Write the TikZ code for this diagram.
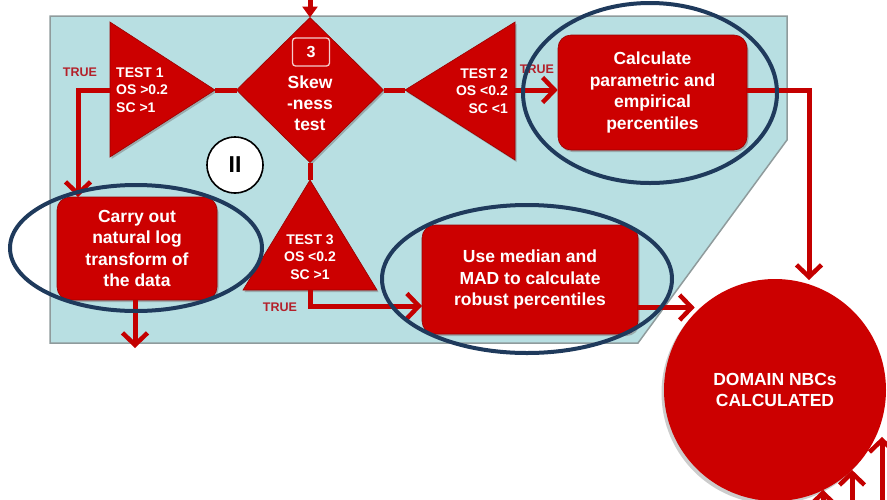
\documentclass[tikz,border=0pt]{standalone}
\usepackage{fontspec}
\setmainfont{Liberation Sans}
\usetikzlibrary{shapes.geometric,arrows.meta,shadows,calc}

\definecolor{panel}{HTML}{B8DFE2}
\definecolor{flowred}{HTML}{CC0000}
\definecolor{linkred}{HTML}{C40000}
\definecolor{ringblue}{HTML}{1F3A5C}
\definecolor{labelred}{HTML}{B3202A}
\definecolor{edgegray}{HTML}{8F9B9C}

\tikzset{
  every node/.style={font=\bfseries},
  redshape/.style={fill=flowred, draw=flowred!75!black, line width=0.6pt,
    drop shadow={opacity=0.55, shadow xshift=1.5pt, shadow yshift=-2pt}},
  procbox/.style={redshape, rounded corners=13pt, text=white, align=center,
    inner sep=0pt, font=\bfseries\fontsize{17.5}{21.5}\selectfont},
  bigtext/.style={text=white, align=center, inner sep=0pt,
    font=\bfseries\fontsize{17.5}{21}\selectfont},
  testtext/.style={text=white, inner sep=0pt,
    font=\bfseries\fontsize{14}{17.5}\selectfont},
  truelabel/.style={text=labelred, inner sep=0pt,
    font=\bfseries\fontsize{12.5}{14}\selectfont},
  link/.style={draw=linkred, line width=5pt},
  barb/.style={-{Straight Barb[length=12pt,width=25pt,line width=4.5pt]}},
  ring/.style={draw=ringblue, line width=4pt},
}

\begin{document}
\begin{tikzpicture}[x=1pt,y=-1pt]
\useasboundingbox (0,0) rectangle (887,499);

% shaded panel holding the skewness branch
\filldraw[fill=panel, draw=edgegray, line width=1.5pt]
  (50,16) -- (787,16) -- (787,140) -- (638,343) -- (50,343) -- cycle;

% decision diamond
\node[diamond, redshape, minimum width=147pt, minimum height=145pt,
      inner sep=0pt, outer sep=0pt] (skew) at (310,90) {};
\node[bigtext] (skewtxt) at (310,103) {Skew\\-ness\\test};
\node[draw=white!80!flowred, rounded corners=3pt, line width=1.3pt,
      minimum width=37pt, minimum height=28pt, inner sep=0pt, text=white,
      font=\bfseries\fontsize{16}{18}\selectfont] (stepno) at (311,52) {3};

% TEST 1: triangle pointing right
\coordinate (t1tip) at (215,90);
\coordinate (t1back) at (110,90);
\filldraw[redshape] (110,22) -- (t1tip) -- (110,157) -- cycle;
\node[testtext, anchor=west, align=left] (t1txt) at (116,90)
  {TEST 1\\OS >0.2\\SC >1};

% TEST 2: triangle pointing left
\coordinate (t2tip) at (405,90);
\coordinate (t2back) at (515,90);
\filldraw[redshape] (515,22) -- (t2tip) -- (515,160) -- cycle;
\node[testtext, anchor=east, align=right] (t2txt) at (508,91)
  {TEST 2\\OS <0.2\\SC <1};

% TEST 3: triangle pointing up
\coordinate (t3top) at (310,180);
\coordinate (t3base) at (310,290);
\filldraw[redshape] (t3top) -- (377,290) -- (243,290) -- cycle;
\node[testtext, align=center] (t3txt) at (310,257)
  {TEST 3\\OS <0.2\\SC >1};

% process boxes
\node[procbox, minimum width=189pt, minimum height=115pt] (calc) at (652.5,92.5)
  {Calculate\\parametric and\\empirical\\percentiles};
\node[procbox, minimum width=160pt, minimum height=103pt] (carry) at (137,248.5)
  {Carry out\\natural log\\transform of\\the data};
\node[procbox, minimum width=216pt, minimum height=109pt] (median) at (530,279.5)
  {Use median and\\MAD to calculate\\robust percentiles};

% end state
\node[circle, fill=flowred, minimum size=222pt, inner sep=0pt, outer sep=0pt,
      drop shadow={opacity=0.4, shadow xshift=-2.5pt, shadow yshift=-3pt},
      text=white, align=center, font=\bfseries\fontsize{17.5}{21}\selectfont]
  (dom) at (775,390) {DOMAIN NBCs\\CALCULATED};

% section marker
\node[circle, draw=black, line width=1.6pt, fill=white, minimum size=56pt,
      inner sep=0pt, font=\bfseries\fontsize{23}{25}\selectfont] (sec) at (235,165) {II};

% TRUE labels
\node[truelabel] (true1) at (80,72) {TRUE};
\node[truelabel] (true2) at (537,69) {TRUE};
\node[truelabel] (true3) at (280,307) {TRUE};

% free ends of connectors
\coordinate (feed) at (310,-8);
\coordinate (carryin) at (78,197);
\coordinate (medin) at (422,306);
\coordinate (domin) at (809,280);
\coordinate (carryout) at (135,348);
\coordinate (up1) at (756,530);
\coordinate (up2) at (823,530);
\coordinate (up3) at (852,530);
\coordinate (up4) at (882,530);

% connectors
\draw[link, -{Triangle[length=11pt,width=15pt]}] (feed) -- (skew.north);
\draw[link] (t1tip) -- (skew.west);
\draw[link] (skew.east) -- (t2tip);
\draw[link] (skew.south) -- (t3top);
\draw[link, barb] (t1back) -| (carryin);
\draw[link, barb] (t2back) -- (calc.west |- t2back);
\draw[link, barb] (calc.east |- t2back) -| (domin);
\draw[link, barb] (t3base) |- (medin);
\draw[link, barb, shorten >=6pt] (median.east |- dom.132) -- (dom.132);
\draw[link, barb] ([xshift=-2pt]carry.south) -- (carryout);
\draw[link, barb] (up1) -- (up1 |- dom.-100);
\draw[link, barb] (up2) -- (up2 |- dom.-64);
\draw[link, barb] (up3) -- (up3 |- dom.-46);
\draw[link, barb] (up4) -- (up4 |- dom.-25);

% highlight rings
\draw[ring] (650,93) ellipse [x radius=127, y radius=90];
\draw[ring] (136,248) ellipse [x radius=126, y radius=63];
\draw[ring] (527,279) ellipse [x radius=145, y radius=74];
\end{tikzpicture}
\end{document}
